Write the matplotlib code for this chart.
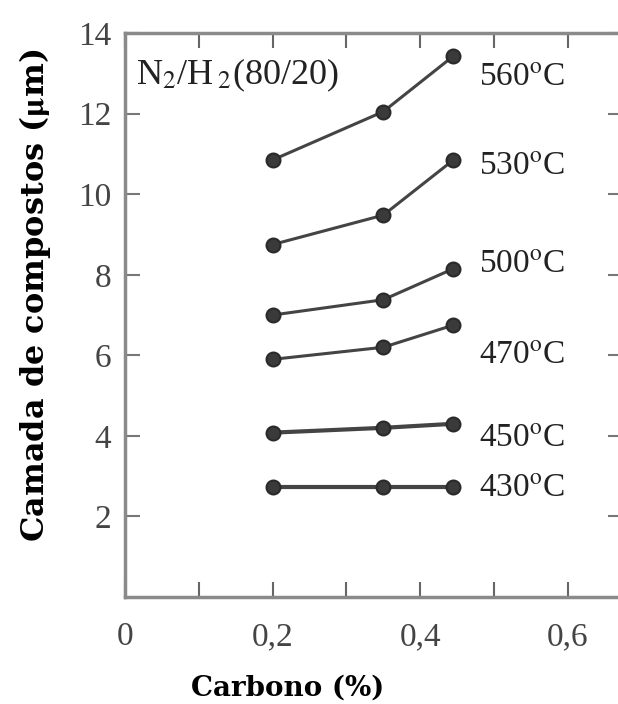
import matplotlib
matplotlib.use("Agg")
import matplotlib.pyplot as plt

# Data
carbono = [0.2, 0.35, 0.445]
temperaturas = ["560", "530", "500", "470", "450", "430"]
camada = {
    "560": [10.85, 12.05, 13.43],
    "530": [8.75, 9.48, 10.85],
    "500": [7.0, 7.38, 8.15],
    "470": [5.9, 6.2, 6.75],
    "450": [4.08, 4.2, 4.3],
    "430": [2.73, 2.73, 2.73],
}
label_y = {"560": 12.9, "530": 10.7, "500": 8.25, "470": 6.0, "450": 3.95, "430": 2.7}

x_ticks = [0, 0.1, 0.2, 0.3, 0.4, 0.5, 0.6]
x_ticklabels = ["0", "", "0,2", "", "0,4", "", "0,6"]
y_ticks = [2, 4, 6, 8, 10, 12, 14]

plt.rcParams["font.family"] = "Liberation Serif"
plt.rcParams["mathtext.fontset"] = "stix"

fig = plt.figure(figsize=(6.18, 7.04), dpi=100)
ax = fig.add_axes([0.2023, 0.152, 0.806, 0.801])

line_col = "#444444"
for t in temperaturas:
    lw = 3.0 if t in ("430", "450") else 2.2
    ax.plot(carbono, camada[t], color=line_col, lw=lw, marker="o", ms=10,
            mfc="#3a3a3a", mec="#2a2a2a", mew=1.5)
    ax.text(0.48, label_y[t], t + r"$^{\mathrm{o}}$C", fontsize=24,
            color="#222222", va="center", ha="left")

ax.text(0.015, 12.95, r"N$_2$/H$\,_2$(80/20)", fontsize=26, color="#222222",
        va="center", ha="left")

ax.set_xlim(0, 0.675)
ax.set_ylim(0, 14)
ax.set_xticks(x_ticks)
ax.set_xticklabels(x_ticklabels)
ax.set_yticks(y_ticks)

for s in ax.spines.values():
    s.set_color("#8a8a8a")
    s.set_linewidth(2.5)

ax.tick_params(axis="x", direction="in", length=11, width=1.5, color="#666666",
               top=True, pad=18, labelsize=24, labelcolor="#444444")
ax.tick_params(axis="y", direction="in", length=11, width=1.5, color="#777777",
               right=True, pad=10, labelsize=24, labelcolor="#444444")

ax.set_xlabel("Carbono (%)", fontsize=20, fontweight="bold", family="DejaVu Serif",
              va="center")
ax.set_ylabel(r"Camada de compostos ($\mathbf{\mu}$m)", fontsize=23,
              fontweight="bold", family="DejaVu Serif", va="center")
ax.xaxis.set_label_coords(0.327, -0.161)
ax.yaxis.set_label_coords(-0.181, 0.535)

fig.savefig("out.png", dpi=100)
